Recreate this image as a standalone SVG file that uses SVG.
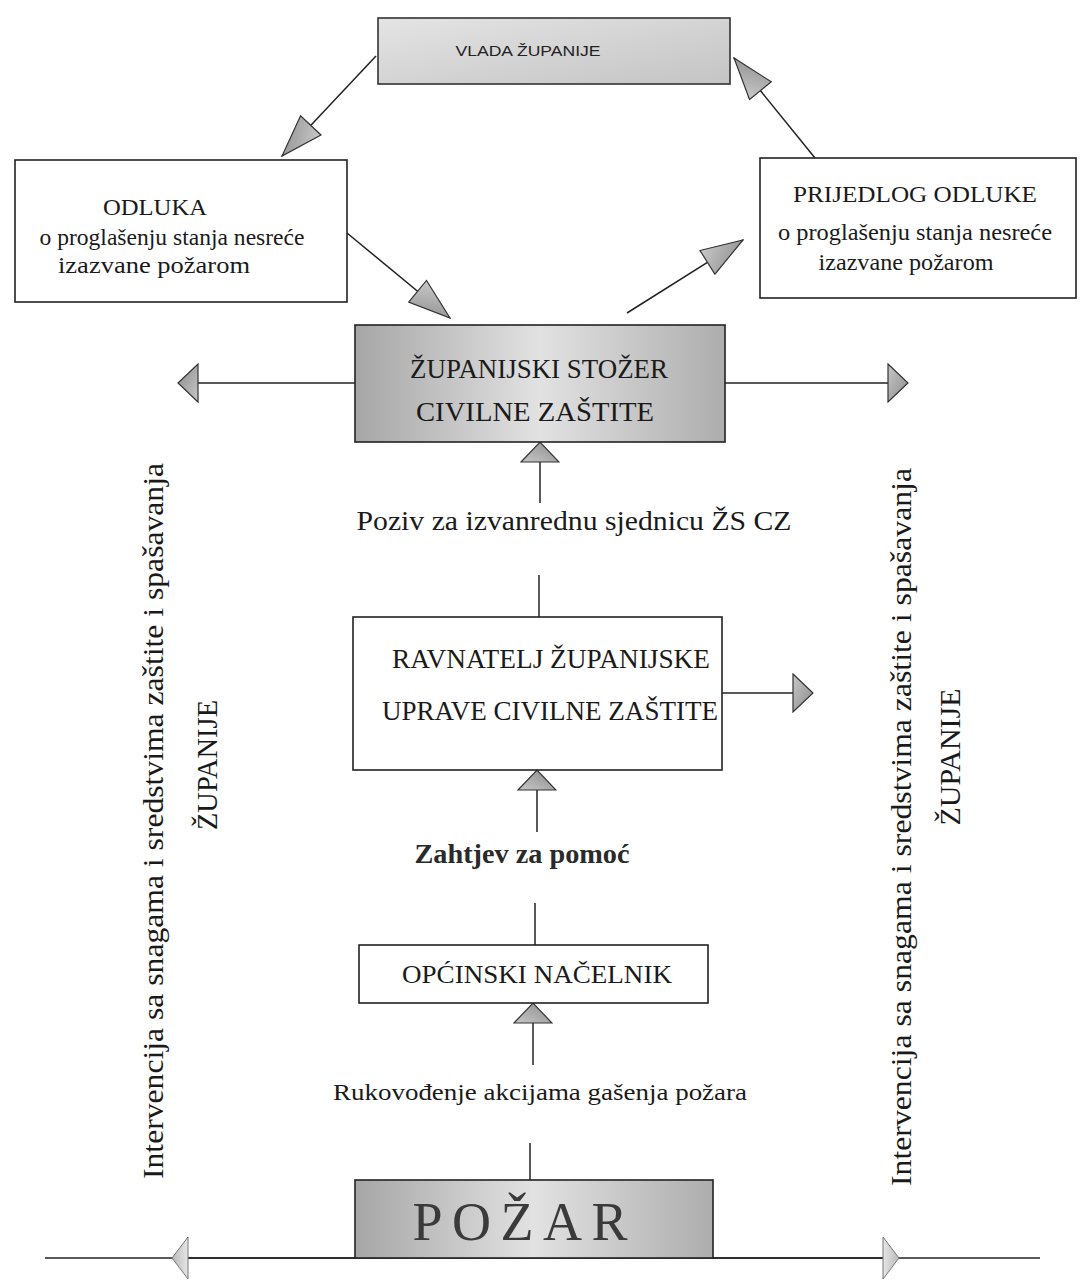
<svg xmlns="http://www.w3.org/2000/svg" width="1080" height="1283" viewBox="0 0 1080 1283">
<defs>
<style>
.box{fill:#fff;stroke:#222;stroke-width:1.6}
.gbox{fill:url(#gH);stroke:#222;stroke-width:1.6}
.vbox{fill:url(#gV);stroke:#333;stroke-width:1.6}
.t{font-family:"Liberation Serif","Times New Roman",serif;fill:#1a1a1a;text-anchor:middle}
.s{font-family:"Liberation Sans",Arial,sans-serif;fill:#222;text-anchor:middle}
.c{stroke:#222;stroke-width:1.5;fill:none}
.ah{fill:url(#gA);stroke:#333;stroke-width:1.2}
.ahl{fill:url(#gL);stroke:#777;stroke-width:1}
</style>
<linearGradient id="gH" x1="0" y1="0" x2="1" y2="0">
<stop offset="0" stop-color="#a6a6a6"/><stop offset="0.5" stop-color="#e2e2e2"/><stop offset="1" stop-color="#adadad"/>
</linearGradient>
<linearGradient id="gV" x1="0" y1="0" x2="1" y2="1">
<stop offset="0" stop-color="#e4e4e4"/><stop offset="1" stop-color="#c4c4c4"/>
</linearGradient>
<linearGradient id="gA" x1="0" y1="0" x2="1" y2="1">
<stop offset="0" stop-color="#c8c8c8"/><stop offset="1" stop-color="#8a8a8a"/>
</linearGradient>
<linearGradient id="gL" x1="0" y1="0" x2="1" y2="0">
<stop offset="0" stop-color="#e6e6e6"/><stop offset="1" stop-color="#b8b8b8"/>
</linearGradient>
<marker id="big" viewBox="0 0 44 30" markerWidth="44" markerHeight="30" refX="43" refY="15" orient="auto" markerUnits="userSpaceOnUse">
<path class="ah" d="M1,1 L43,15 L1,29 Z"/>
</marker>
<marker id="flat" viewBox="0 0 22 40" markerWidth="22" markerHeight="40" refX="21" refY="20" orient="auto" markerUnits="userSpaceOnUse">
<path class="ah" d="M1,1 L21,20 L1,39 Z"/>
</marker>
<marker id="thin" viewBox="0 0 18 44" markerWidth="18" markerHeight="44" refX="17" refY="22" orient="auto" markerUnits="userSpaceOnUse">
<path class="ahl" d="M1,1 L17,22 L1,43 Z"/>
</marker>
</defs>
<rect width="1080" height="1283" fill="#fff"/>

<g id="connectors">
<line class="c" x1="376" y1="56" x2="282" y2="156" marker-end="url(#big)"/>
<line class="c" x1="815" y1="158" x2="734" y2="58" marker-end="url(#big)"/>
<line class="c" x1="347" y1="233" x2="450" y2="318" marker-end="url(#big)"/>
<line class="c" x1="627" y1="313" x2="743" y2="240" marker-end="url(#big)"/>
<line class="c" x1="355" y1="383" x2="178" y2="383" marker-end="url(#flat)"/>
<line class="c" x1="725" y1="383" x2="908" y2="383" marker-end="url(#flat)"/>
<line class="c" x1="540" y1="503" x2="540" y2="442" marker-end="url(#flat)"/>
<line class="c" x1="539" y1="617" x2="539" y2="575"/>
<line class="c" x1="722" y1="693" x2="813" y2="693" marker-end="url(#flat)"/>
<line class="c" x1="537" y1="832" x2="537" y2="770" marker-end="url(#flat)"/>
<line class="c" x1="535" y1="945" x2="535" y2="903"/>
<line class="c" x1="533" y1="1065" x2="533" y2="1003" marker-end="url(#flat)"/>
<line class="c" x1="530" y1="1180" x2="530" y2="1143"/>
<line class="c" x1="45" y1="1258" x2="1040" y2="1258"/>
<line class="c" x1="355" y1="1258" x2="172" y2="1258" marker-end="url(#thin)"/>
<line class="c" x1="713" y1="1258" x2="899" y2="1258" marker-end="url(#thin)"/>
</g>

<g id="vlada">
<rect class="vbox" x="378" y="18" width="352" height="66"/>
<text class="s" x="528" y="56" font-size="15" textLength="145" lengthAdjust="spacingAndGlyphs">VLADA ŽUPANIJE</text>
</g>

<g id="odluka">
<rect class="box" x="15" y="160" width="332" height="142"/>
<text class="t" x="155" y="215" font-size="23" textLength="104" lengthAdjust="spacingAndGlyphs">ODLUKA</text>
<text class="t" x="172" y="245" font-size="23" textLength="265" lengthAdjust="spacingAndGlyphs">o proglašenju stanja nesreće</text>
<text class="t" x="154" y="273" font-size="23" textLength="192" lengthAdjust="spacingAndGlyphs">izazvane požarom</text>
</g>

<g id="prijedlog">
<rect class="box" x="760" y="158" width="316" height="140"/>
<text class="t" x="915" y="202" font-size="24" textLength="244" lengthAdjust="spacingAndGlyphs">PRIJEDLOG ODLUKE</text>
<text class="t" x="915" y="240" font-size="23" textLength="274" lengthAdjust="spacingAndGlyphs">o proglašenju stanja nesreće</text>
<text class="t" x="906" y="270" font-size="23" textLength="175" lengthAdjust="spacingAndGlyphs">izazvane požarom</text>
</g>

<g id="stozer">
<rect class="gbox" x="355" y="325" width="370" height="117"/>
<text class="t" x="539" y="378" font-size="27" textLength="258" lengthAdjust="spacingAndGlyphs">ŽUPANIJSKI STOŽER</text>
<text class="t" x="535" y="421" font-size="27" textLength="238" lengthAdjust="spacingAndGlyphs">CIVILNE ZAŠTITE</text>
</g>

<g id="poziv">
<text class="t" x="574" y="530" font-size="27" textLength="435" lengthAdjust="spacingAndGlyphs">Poziv za izvanrednu sjednicu ŽS CZ</text>
</g>

<g id="ravnatelj">
<rect class="box" x="353" y="617" width="369" height="153"/>
<text class="t" x="551" y="668" font-size="27" textLength="318" lengthAdjust="spacingAndGlyphs">RAVNATELJ ŽUPANIJSKE</text>
<text class="t" x="550" y="720" font-size="27" textLength="336" lengthAdjust="spacingAndGlyphs">UPRAVE CIVILNE ZAŠTITE</text>
</g>

<g id="zahtjev">
<text class="t" x="522" y="863" font-size="27" textLength="215" lengthAdjust="spacingAndGlyphs" style="font-weight:bold;fill:#2a2a2a">Zahtjev za pomoć</text>
</g>

<g id="opcinski">
<rect class="box" x="359" y="945" width="349" height="58"/>
<text class="t" x="537" y="983" font-size="26" textLength="270" lengthAdjust="spacingAndGlyphs">OPĆINSKI NAČELNIK</text>
</g>

<g id="rukovodenje">
<text class="t" x="540" y="1100" font-size="24" textLength="414" lengthAdjust="spacingAndGlyphs">Rukovođenje akcijama gašenja požara</text>
</g>

<g id="pozar">
<rect class="gbox" x="355" y="1180" width="358" height="78"/>
<text class="t" x="520" y="1240" font-size="54" textLength="215" lengthAdjust="spacing" style="fill:#3a3a3a">POŽAR</text>
</g>

<g id="intervencija-lijevo">
<text class="t" transform="translate(163,821) rotate(-90)" x="0" y="0" font-size="29" textLength="716" lengthAdjust="spacingAndGlyphs">Intervencija sa snagama i sredstvima zaštite i spašavanja</text>
<text class="t" transform="translate(217,765) rotate(-90)" x="0" y="0" font-size="29" textLength="130" lengthAdjust="spacingAndGlyphs">ŽUPANIJE</text>
</g>

<g id="intervencija-desno">
<text class="t" transform="translate(911,827) rotate(-90)" x="0" y="0" font-size="29" textLength="718" lengthAdjust="spacingAndGlyphs">Intervencija sa snagama i sredstvima zaštite i spašavanja</text>
<text class="t" transform="translate(960,757) rotate(-90)" x="0" y="0" font-size="29" textLength="137" lengthAdjust="spacingAndGlyphs">ŽUPANIJE</text>
</g>
</svg>
